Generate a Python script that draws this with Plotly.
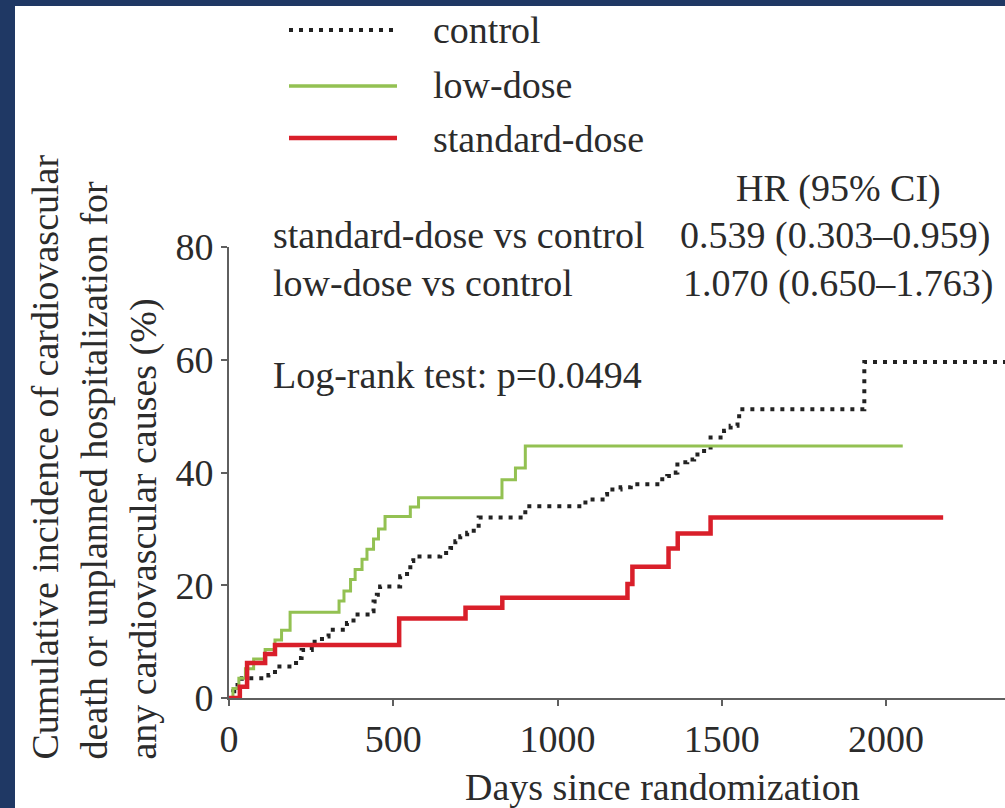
import plotly.graph_objects as go

# ---------------- data ----------------
control_days = [0, 13, 26, 39, 120, 140, 191, 211, 221, 252, 283, 303, 359, 379, 430, 440, 450, 460,
                521, 542, 552, 561, 643, 674, 689, 704, 725, 745, 760, 902, 1085, 1146, 1151,
                1192, 1223, 1304, 1334, 1360, 1365, 1395, 1416, 1426, 1466, 1507, 1527, 1548,
                1553, 1934, 2500]
control_pct = [0, 1.2, 2.3, 3.5, 4.1, 5.6, 6.2, 7.1, 8.5, 10.0, 10.9, 12.1, 13.3, 14.8, 15.4, 17.1, 18.3, 19.8,
               21.6, 22.5, 24.3, 25.1, 25.7, 26.6, 27.8, 28.7, 29.3, 30.2, 32.0, 34.0, 35.2, 36.1, 37.0,
               37.4, 37.9, 38.8, 39.4, 40.0, 41.8, 42.3, 43.2, 43.8, 46.2, 47.4, 48.3, 49.5,
               51.2, 59.6, 59.6]

low_days = [0, 12, 30, 50, 75, 110, 140, 160, 186, 335, 350, 370, 384, 405, 420, 440, 455, 475,
            552, 577, 831, 872, 902, 2051]
low_pct = [0, 1.7, 3.5, 5.2, 6.9, 8.6, 10.3, 12.0, 15.2, 17.2, 19.0, 21.0, 22.8, 24.6, 26.4, 28.2, 30.0, 32.2,
           33.9, 35.5, 38.7, 40.8, 44.7, 44.7]

std_days = [0, 33, 55, 110, 140, 518, 720, 832, 1213, 1228, 1338, 1366, 1466, 2174]
std_pct = [0, 2.0, 6.2, 7.8, 9.4, 14.1, 16.0, 17.8, 20.2, 23.3, 26.5, 29.2, 32.0, 32.0]

series_names = ["control", "low-dose", "standard-dose"]
x_ticks = [0, 500, 1000, 1500, 2000]
y_ticks = [0, 20, 40, 60, 80]
hr_rows = [("standard-dose vs control", "0.539 (0.303\u20130.959)"),
           ("low-dose vs control", "1.070 (0.650\u20131.763)")]

# ---------------- styling ----------------
FONT = "Liberation Serif"
FS = 38
TXT = "#2b2b2b"
AXC = "#5f5f5f"
NAVY = "#1F3864"
C_CTRL = "#222222"
C_LOW = "#93C152"
C_STD = "#D91F2A"
DOT = "4px,6px"

W, H = 1005, 808
L, R, T, B = 229, 1005, 247, 698   # plot area in pixels
PW, PH = R - L, B - T


def px(x):
    return (x - L) / PW


def py(y):
    return (B - y) / PH


fig = go.Figure()
fig.add_trace(go.Scatter(x=control_days, y=control_pct, mode="lines", line_shape="hv",
                         line=dict(color=C_CTRL, width=4, dash=DOT), name=series_names[0]))
fig.add_trace(go.Scatter(x=low_days, y=low_pct, mode="lines", line_shape="hv",
                         line=dict(color=C_LOW, width=3), name=series_names[1]))
fig.add_trace(go.Scatter(x=std_days, y=std_pct, mode="lines", line_shape="hv",
                         line=dict(color=C_STD, width=4.5), name=series_names[2]))

shapes = []
annotations = []

# navy frame strips
shapes.append(dict(type="rect", xref="paper", yref="paper", x0=px(0), x1=px(15), y0=py(H), y1=py(0),
                   fillcolor=NAVY, line=dict(width=0), layer="above"))
shapes.append(dict(type="rect", xref="paper", yref="paper", x0=px(0), x1=px(W), y0=py(6), y1=py(0),
                   fillcolor=NAVY, line=dict(width=0), layer="above"))

# manual legend
leg_y = [30, 86, 138]
leg_styles = [dict(color=C_CTRL, width=4, dash=DOT), dict(color=C_LOW, width=3.5),
              dict(color=C_STD, width=4.5)]
leg_text_y = [30, 85, 139]
for name, ly, st, ty in zip(series_names, leg_y, leg_styles, leg_text_y):
    shapes.append(dict(type="line", xref="paper", yref="paper", x0=px(289), x1=px(397),
                       y0=py(ly), y1=py(ly), line=st))
    annotations.append(dict(text=name, xref="paper", yref="paper", x=px(431), y=py(ty),
                            xanchor="left", yanchor="middle", showarrow=False))

# HR table
annotations.append(dict(text="HR (95% CI)", xref="paper", yref="paper", x=px(838), y=py(189),
                        xanchor="center", yanchor="middle", showarrow=False))
for (lab, val), ry, vx in zip(hr_rows, [235, 283], [678, 681]):
    annotations.append(dict(text=lab, xref="paper", yref="paper", x=px(271), y=py(ry),
                            xanchor="left", yanchor="middle", showarrow=False))
    annotations.append(dict(text=val, xref="paper", yref="paper", x=px(vx), y=py(ry),
                            xanchor="left", yanchor="middle", showarrow=False))

annotations.append(dict(text="Log-rank test: p=0.0494", xref="paper", yref="paper", x=px(271), y=py(375),
                        xanchor="left", yanchor="middle", showarrow=False))

# axis titles
annotations.append(dict(text="Days since randomization", xref="paper", yref="paper", x=px(662), y=py(787),
                        xanchor="center", yanchor="middle", showarrow=False))
annotations.append(dict(text="Cumulative incidence of cardiovascular<br>death or unplanned hospitalization for"
                             "<br>any cardiovascular causes (%)",
                        xref="paper", yref="paper", x=px(94), y=py(762), xanchor="center", yanchor="bottom",
                        textangle=-90, align="left", showarrow=False))

fig.update_layout(
    width=W, height=H,
    margin=dict(l=L, r=W - R, t=T, b=H - B, pad=0),
    paper_bgcolor="white", plot_bgcolor="white",
    font=dict(family=FONT, size=FS, color=TXT),
    showlegend=False,
    shapes=shapes, annotations=annotations,
    xaxis=dict(range=[0, PW / 0.3285], tickvals=x_ticks, ticktext=[str(v) for v in x_ticks],
               showgrid=False, zeroline=False, showline=True, linecolor=AXC, linewidth=2,
               ticks="outside", ticklen=6, tickwidth=2, tickcolor=AXC,
               tickfont=dict(family=FONT, size=FS, color=TXT)),
    yaxis=dict(range=[0, 80], tickvals=y_ticks, showgrid=False, zeroline=False, showline=True,
               linecolor=AXC, linewidth=2, ticks="outside", ticklen=6, tickwidth=2, tickcolor=AXC,
               tickfont=dict(family=FONT, size=FS, color=TXT)),
)

fig.write_html("out.html")
